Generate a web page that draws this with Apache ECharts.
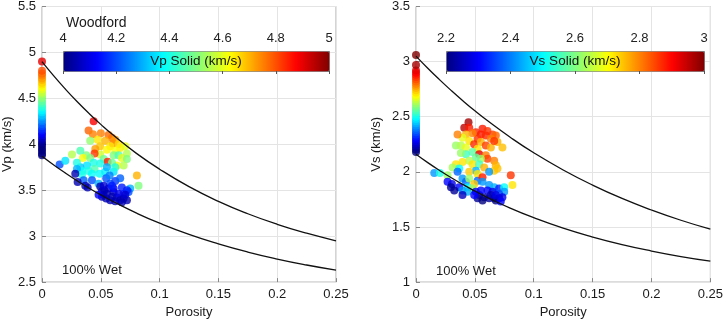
<!DOCTYPE html>
<html>
<head>
<meta charset="utf-8">
<script src="https://cdn.jsdelivr.net/npm/echarts@6/dist/echarts.min.js"></script>
<style>
    html, body { margin: 0; padding: 0; background: #fff; }
    #chart { width: 726px; height: 324px; }
</style>
</head>
<body>
<div id="chart"></div>
<script>
    // porosity samples for the two model curves
    const curvePor = [0, 0.01, 0.02, 0.03, 0.04, 0.05, 0.06, 0.08, 0.10, 0.125, 0.15, 0.175, 0.2, 0.225, 0.25];
    const vpUpper = [4.90, 4.744, 4.599, 4.463, 4.336, 4.217, 4.106, 3.904, 3.729, 3.539, 3.379, 3.244, 3.129, 3.032, 2.950];
    const vpLower = [3.87, 3.775, 3.686, 3.602, 3.523, 3.449, 3.380, 3.253, 3.141, 3.019, 2.916, 2.827, 2.751, 2.686, 2.630];
    const vsUpper = [3.05, 2.940, 2.836, 2.737, 2.643, 2.554, 2.470, 2.314, 2.173, 2.017, 1.880, 1.759, 1.654, 1.561, 1.480];
    const vsLower = [2.16, 2.084, 2.013, 1.946, 1.884, 1.826, 1.771, 1.671, 1.584, 1.489, 1.409, 1.340, 1.282, 1.232, 1.190];

    // zero-porosity (solid) samples, plotted at porosity 0
    const vpZero = [3.88, 3.9, 3.93, 3.95, 3.98, 4, 4.02, 4.05, 4.07, 4.1, 4.12, 4.15, 4.17, 4.2, 4.22, 4.25, 4.27, 4.3, 4.32,
        4.35, 4.37, 4.4, 4.42, 4.45, 4.47, 4.5, 4.52, 4.55, 4.57, 4.6, 4.62, 4.65, 4.67, 4.7, 4.72, 4.75, 4.77, 4.8, 4.9];
    const vsZero = [2.18, 2.2, 2.22, 2.24, 2.26, 2.28, 2.3, 2.32, 2.34, 2.36, 2.38, 2.4, 2.42, 2.44, 2.46, 2.48, 2.5, 2.52, 2.54,
        2.56, 2.58, 2.6, 2.62, 2.64, 2.66, 2.68, 2.7, 2.72, 2.74, 2.76, 2.78, 2.8, 2.82, 2.84, 2.86, 2.88, 2.9, 2.92, 2.97, 3.06];

    // Woodford samples: porosity, Vp, Vp solid
    const vpPor = [
        0.0439, 0.0396, 0.0433, 0.0500, 0.0566, 0.0595, 0.0623, 0.0473, 0.0538, 0.0603,
        0.0651, 0.0665, 0.0580, 0.0495, 0.0410, 0.0453, 0.0623, 0.0552, 0.0708, 0.0495,
        0.0447, 0.0377, 0.0326, 0.0255, 0.0348, 0.0410, 0.0524, 0.0558, 0.0609, 0.0651,
        0.0679, 0.0722, 0.0722, 0.0694, 0.0637, 0.0595, 0.0495, 0.0439, 0.0382, 0.0326,
        0.0340, 0.0396, 0.0447, 0.0490, 0.0538, 0.0552, 0.0609, 0.0623, 0.0297, 0.0297,
        0.0340, 0.0425, 0.0354, 0.0425, 0.0481, 0.0546, 0.0580, 0.0623, 0.0665, 0.0575,
        0.0807, 0.0821, 0.0750, 0.0736, 0.0679, 0.0694, 0.0150, 0.0198, 0.0283, 0.0303,
        0.0368, 0.0388, 0.0495, 0.0510, 0.0524, 0.0566, 0.0552, 0.0609, 0.0595, 0.0546,
        0.0637, 0.0651, 0.0665, 0.0623, 0.0694, 0.0722, 0.0679, 0.0580, 0.0510, 0.0481,
        0.0609, 0.0530, 0.0722, 0.0708, 0.0524, 0.0595];
    const vpVel = [
        4.25, 4.15, 4.11, 4.12, 4.10, 4.07, 4.05, 4.05, 4.04, 4.01,
        4.00, 3.96, 3.98, 3.98, 4.04, 3.95, 3.93, 3.94, 3.98, 3.89,
        3.90, 3.88, 3.93, 3.89, 3.85, 3.85, 3.84, 3.81, 3.88, 3.88,
        3.85, 3.90, 3.84, 3.77, 3.77, 3.80, 3.79, 3.80, 3.77, 3.75,
        3.71, 3.71, 3.73, 3.68, 3.70, 3.75, 3.70, 3.75, 3.80, 3.73,
        3.67, 3.68, 3.61, 3.61, 3.57, 3.63, 3.57, 3.60, 3.63, 3.66,
        3.66, 3.55, 3.52, 3.48, 3.53, 3.46, 3.78, 3.82, 3.68, 3.59,
        3.55, 3.53, 3.54, 3.49, 3.45, 3.52, 3.46, 3.48, 3.43, 3.41,
        3.42, 3.46, 3.39, 3.38, 3.41, 3.39, 3.37, 3.39, 3.43, 3.45,
        3.52, 3.50, 3.50, 3.45, 3.55, 3.55];
    const vpSolid = [
        4.88, 4.78, 4.75, 4.75, 4.77, 4.76, 4.72, 4.65, 4.70, 4.74,
        4.66, 4.64, 4.65, 4.68, 4.52, 4.72, 4.62, 4.63, 4.60, 4.58,
        4.82, 4.50, 4.45, 4.55, 4.62, 4.50, 4.48, 4.85, 4.50, 4.45,
        4.60, 4.55, 4.50, 4.55, 4.62, 4.48, 4.40, 4.40, 4.35, 4.32,
        4.38, 4.40, 4.45, 4.38, 4.36, 4.30, 4.35, 4.40, 4.40, 4.30,
        4.40, 4.38, 4.22, 4.20, 4.30, 4.20, 4.20, 4.18, 4.22, 4.25,
        4.70, 4.50, 4.30, 4.20, 4.15, 4.15, 4.20, 4.35, 4.05, 4.05,
        4.05, 4.05, 4.05, 4.05, 4.05, 4.08, 4.05, 4.05, 4.05, 4.05,
        4.05, 4.10, 4.05, 4.05, 4.05, 4.05, 4.05, 4.05, 4.05, 4.12,
        4.12, 4.05, 4.15, 4.08, 4.08, 4.15];

    // Woodford samples: porosity, Vs, Vs solid
    const vsPor = [
        0.0446, 0.0410, 0.0452, 0.0508, 0.0565, 0.0607, 0.0650, 0.0678, 0.0551, 0.0593,
        0.0636, 0.0692, 0.0734, 0.0523, 0.0480, 0.0424, 0.0395, 0.0353, 0.0452, 0.0494,
        0.0551, 0.0593, 0.0636, 0.0664, 0.0339, 0.0381, 0.0424, 0.0523, 0.0480, 0.0424,
        0.0381, 0.0537, 0.0593, 0.0607, 0.0551, 0.0508, 0.0452, 0.0395, 0.0339, 0.0311,
        0.0367, 0.0480, 0.0537, 0.0579, 0.0664, 0.0678, 0.0664, 0.0692, 0.0621, 0.0508,
        0.0452, 0.0353, 0.0268, 0.0155, 0.0203, 0.0268, 0.0305, 0.0395, 0.0424, 0.0452,
        0.0523, 0.0523, 0.0565, 0.0565, 0.0494, 0.0438, 0.0480, 0.0367, 0.0395, 0.0438,
        0.0621, 0.0664, 0.0607, 0.0650, 0.0706, 0.0749, 0.0749, 0.0706, 0.0805, 0.0819,
        0.0508, 0.0537, 0.0551, 0.0579, 0.0621, 0.0664, 0.0706, 0.0734, 0.0523, 0.0565,
        0.0678, 0.0636, 0.0678, 0.0297, 0.0325, 0.0395, 0.0494, 0.0720];
    const vsVel = [
        2.45, 2.40, 2.40, 2.36, 2.39, 2.37, 2.34, 2.33, 2.34, 2.33,
        2.30, 2.27, 2.22, 2.30, 2.35, 2.34, 2.31, 2.34, 2.28, 2.25,
        2.27, 2.24, 2.22, 2.28, 2.24, 2.24, 2.22, 2.21, 2.18, 2.16,
        2.17, 2.16, 2.15, 2.12, 2.12, 2.13, 2.10, 2.09, 2.07, 2.04,
        2.03, 2.07, 2.07, 2.04, 2.10, 2.06, 2.01, 2.03, 2.00, 2.01,
        2.00, 2.00, 1.97, 1.99, 1.99, 1.91, 1.89, 1.94, 1.91, 1.94,
        1.98, 1.92, 1.95, 1.91, 1.89, 1.86, 1.85, 1.86, 1.83, 1.82,
        1.88, 1.86, 1.83, 1.82, 1.85, 1.86, 1.82, 1.80, 1.97, 1.88,
        1.82, 1.79, 1.83, 1.77, 1.76, 1.76, 1.76, 1.77, 1.76, 1.74,
        1.74, 1.79, 1.79, 1.86, 1.83, 1.79, 1.79, 1.73];
    const vsSolid = [
        2.97, 2.95, 2.88, 2.87, 2.88, 2.86, 2.85, 2.82, 2.88, 2.87,
        2.80, 2.76, 2.75, 2.86, 2.80, 2.76, 2.68, 2.80, 2.72, 2.87,
        2.76, 2.85, 2.76, 2.86, 2.62, 2.64, 2.68, 2.72, 2.57, 2.55,
        2.62, 2.92, 2.80, 2.85, 2.63, 2.58, 2.64, 2.72, 2.72, 2.63,
        2.50, 2.72, 2.55, 2.76, 2.80, 2.76, 2.74, 2.75, 2.42, 2.44,
        2.74, 2.38, 2.62, 2.42, 2.52, 2.30, 2.28, 2.42, 2.38, 2.62,
        2.72, 2.38, 2.88, 2.42, 2.74, 2.50, 2.62, 2.30, 2.42, 2.44,
        2.42, 2.44, 2.30, 2.28, 2.32, 2.50, 2.42, 2.36, 2.86, 2.72,
        2.28, 2.24, 2.30, 2.22, 2.22, 2.22, 2.26, 2.28, 2.22, 2.20,
        2.20, 2.24, 2.28, 2.22, 2.22, 2.25, 2.30, 2.30];

    // axis ticks
    const porTicks = { min: 0, max: 0.25, interval: 0.05 };
    const vpTicks = { min: 2.5, max: 5.5, interval: 0.5 };
    const vsTicks = { min: 1, max: 3.5, interval: 0.5 };
    const vpBarTicks = { min: 4, max: 5, interval: 0.2 };
    const vsBarTicks = { min: 2.2, max: 3, interval: 0.2 };

    const jet = ['#000080', '#0000ff', '#0080ff', '#00ffff', '#80ff80', '#ffff00', '#ff8000', '#ff0000', '#800000'];
    const font = "'Liberation Sans', Arial, sans-serif";

    function clampTo(v, r) {
        // colours outside the colour range take the end colour, as in the source figure
        return Math.min(Math.max(v, r.min), r.max);
    }

    function zip(xs, ys) {
        return xs.map((x, i) => [x, ys[i]]);
    }

    function scatterData(zero, por, vel, solid, range) {
        let d = zero.map(v => [0, v, clampTo(v, range)]);
        por.forEach((p, i) => d.push([p, vel[i], clampTo(solid[i], range)]));
        return d;
    }

    let myChart = echarts.init(document.getElementById('chart'));

    function mainX(gridIndex) {
        return {
            gridIndex: gridIndex,
            type: 'value',
            min: porTicks.min, max: porTicks.max, interval: porTicks.interval,
            name: 'Porosity',
            nameLocation: 'middle',
            nameGap: 22,
            nameTextStyle: { color: '#1a1a1a', fontSize: 13, fontFamily: font },
            axisLine: { show: false },
            axisTick: { inside: true, length: 4, lineStyle: { color: '#888' } },
            axisLabel: { color: '#1a1a1a', fontSize: 13, fontFamily: font, margin: 6 },
            splitLine: { lineStyle: { color: '#e4e4e4' } }
        };
    }

    function mainY(gridIndex, ticks, name, gap) {
        return {
            gridIndex: gridIndex,
            type: 'value',
            min: ticks.min, max: ticks.max, interval: ticks.interval,
            name: name,
            nameLocation: 'middle',
            nameGap: gap,
            nameTextStyle: { color: '#1a1a1a', fontSize: 13, fontFamily: font },
            axisLine: { show: false },
            axisTick: { show: true, inside: true, length: 4, lineStyle: { color: '#888' } },
            axisLabel: { color: '#1a1a1a', fontSize: 13, fontFamily: font, margin: 6 },
            splitLine: { lineStyle: { color: '#e4e4e4' } }
        };
    }

    function barX(gridIndex, ticks) {
        return {
            gridIndex: gridIndex,
            type: 'value',
            position: 'top',
            min: ticks.min, max: ticks.max, interval: ticks.interval,
            z: 10,
            axisLine: { show: false },
            axisTick: { inside: true, length: 3, lineStyle: { color: '#555' } },
            axisLabel: { color: '#222', fontSize: 13, fontFamily: font, margin: 6 },
            splitLine: { show: false }
        };
    }

    function barY(gridIndex) {
        return { gridIndex: gridIndex, type: 'value', show: false, min: 0, max: 1 };
    }

    function curve(xIdx, ys) {
        return {
            type: 'line',
            xAxisIndex: xIdx, yAxisIndex: xIdx,
            data: zip(curvePor, ys),
            showSymbol: false,
            smooth: true,
            silent: true,
            z: 5,
            lineStyle: { color: '#111', width: 1.3 }
        };
    }

    let chartData = {
        animation: false,
        grid: [
            { left: 42, top: 5, width: 294, height: 280, show: true, borderColor: '#a8a8a8', borderWidth: 1 },
            { left: 416, top: 5, width: 295, height: 279, show: true, borderColor: '#a8a8a8', borderWidth: 1 },
            { left: 63, top: 51, width: 266, height: 20 },
            { left: 446, top: 51, width: 258, height: 20 }
        ],
        xAxis: [mainX(0), mainX(1), barX(2, vpBarTicks), barX(3, vsBarTicks)],
        yAxis: [mainY(0, vpTicks, 'Vp (km/s)', 25), mainY(1, vsTicks, 'Vs (km/s)', 33), barY(2), barY(3)],
        visualMap: [
            {
                type: 'continuous', seriesIndex: 0, dimension: 2,
                min: vpBarTicks.min, max: vpBarTicks.max,
                inRange: { color: jet },
                orient: 'horizontal', left: 63, top: 51,
                itemWidth: 20, itemHeight: 266,
                calculable: false, padding: 0,
                borderColor: '#777', borderWidth: 1
            },
            {
                type: 'continuous', seriesIndex: 1, dimension: 2,
                min: vsBarTicks.min, max: vsBarTicks.max,
                inRange: { color: jet },
                orient: 'horizontal', left: 446, top: 51,
                itemWidth: 20, itemHeight: 258,
                calculable: false, padding: 0,
                borderColor: '#777', borderWidth: 1
            }
        ],
        series: [
            {
                type: 'scatter', xAxisIndex: 0, yAxisIndex: 0,
                symbolSize: 8,
                data: scatterData(vpZero, vpPor, vpVel, vpSolid, vpBarTicks)
            },
            {
                type: 'scatter', xAxisIndex: 1, yAxisIndex: 1,
                symbolSize: 8,
                data: scatterData(vsZero, vsPor, vsVel, vsSolid, vsBarTicks)
            },
            curve(0, vpUpper),
            curve(0, vpLower),
            curve(1, vsUpper),
            curve(1, vsLower)
        ],
        graphic: [
            { type: 'text', x: 66, y: 23, z: 20, style: { text: 'Woodford', fill: '#1a1a1a', font: '14px ' + font, verticalAlign: 'middle' } },
            { type: 'text', x: 196, y: 61, z: 20, style: { text: 'Vp Solid (km/s)', fill: '#111', font: '13.5px ' + font, align: 'center', verticalAlign: 'middle' } },
            { type: 'text', x: 575, y: 61, z: 20, style: { text: 'Vs Solid (km/s)', fill: '#111', font: '13.5px ' + font, align: 'center', verticalAlign: 'middle' } },
            { type: 'text', x: 62, y: 270, z: 20, style: { text: '100% Wet', fill: '#1a1a1a', font: '13px ' + font, verticalAlign: 'middle' } },
            { type: 'text', x: 436, y: 271, z: 20, style: { text: '100% Wet', fill: '#1a1a1a', font: '13px ' + font, verticalAlign: 'middle' } }
        ]
    };
    myChart.setOption(chartData);
</script>
</body>
</html>
